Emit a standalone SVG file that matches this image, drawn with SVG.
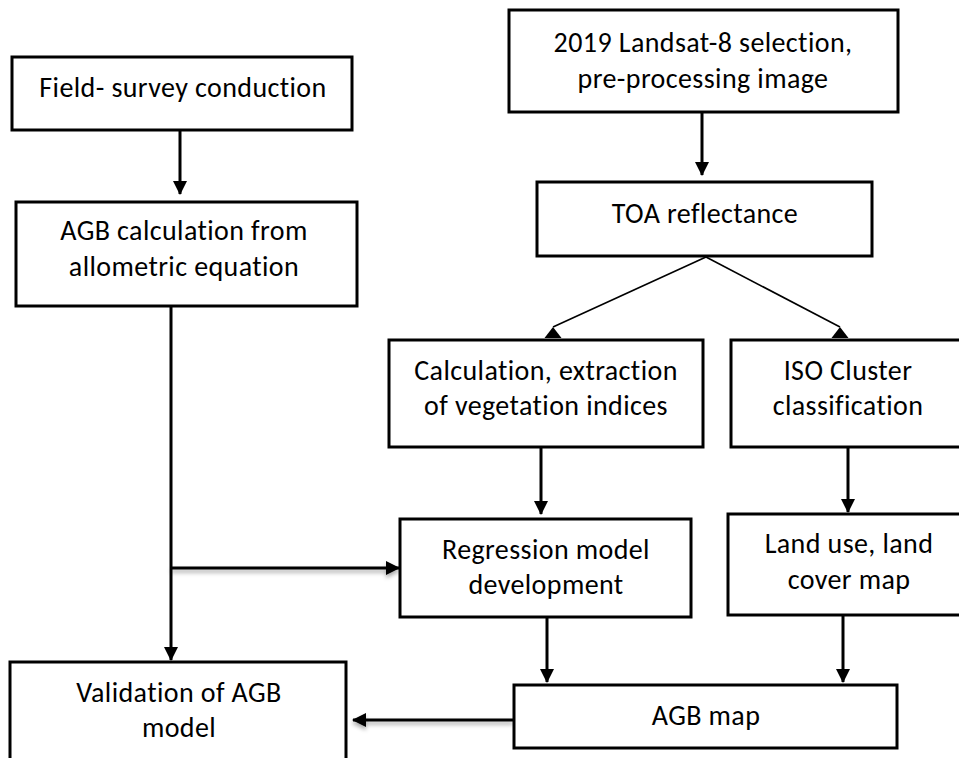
<svg xmlns="http://www.w3.org/2000/svg" width="959" height="758" viewBox="0 0 959 758">
<style>
.box{fill:#fff;stroke:#000;stroke-width:3}
.t{font-family:Carlito,Lato,"Noto Sans",sans-serif;font-size:28px;letter-spacing:0.4px;fill:#000;text-anchor:middle}
.c{fill:none;stroke:#000;stroke-width:3}
.d{fill:none;stroke:#000;stroke-width:1.6}
</style>
<defs>
<marker id="arr" markerUnits="userSpaceOnUse" markerWidth="16" markerHeight="16" viewBox="0 -8 14 16" refX="13" refY="0" orient="auto">
<path d="M0,-7 L14,0 L0,7 Z" fill="#000"/>
</marker>
<marker id="tri" markerUnits="userSpaceOnUse" markerWidth="20" markerHeight="16" viewBox="-10 -2 20 16" refX="0" refY="0" orient="0">
<path d="M0,0 L-8.5,11 L8.5,11 Z" fill="#000"/>
</marker>
<filter id="sh" filterUnits="userSpaceOnUse" x="0" y="0" width="959" height="758">
<feDropShadow dx="0" dy="3" stdDeviation="2" flood-color="#000" flood-opacity="0.35"/>
</filter>
</defs>
<g id="connectors">
<line class="c" x1="180" y1="130" x2="180" y2="194" marker-end="url(#arr)"/>
<line class="c" x1="171" y1="306" x2="171" y2="660" marker-end="url(#arr)"/>
<line class="c" x1="171" y1="568" x2="399" y2="568" marker-end="url(#arr)" filter="url(#sh)"/>
<line class="c" x1="702" y1="112" x2="702" y2="175" marker-end="url(#arr)"/>
<line class="d" x1="706" y1="257" x2="553" y2="327" marker-end="url(#tri)"/>
<line class="d" x1="706" y1="257" x2="840" y2="327" marker-end="url(#tri)"/>
<line class="c" x1="541" y1="447" x2="541" y2="514" marker-end="url(#arr)"/>
<line class="c" x1="848" y1="447" x2="848" y2="512" marker-end="url(#arr)"/>
<line class="c" x1="547" y1="617" x2="547" y2="682" marker-end="url(#arr)"/>
<line class="c" x1="843" y1="615" x2="843" y2="682" marker-end="url(#arr)"/>
<line class="c" x1="513" y1="720" x2="353" y2="720" marker-end="url(#arr)" filter="url(#sh)"/>
</g>
<g id="field">
<rect class="box" x="12" y="57" width="340" height="73"/>
<text class="t" x="183" y="97">Field- survey conduction</text>
</g>
<g id="agbcalc">
<rect class="box" x="16" y="202" width="341" height="104"/>
<text class="t" x="184" y="240">AGB calculation from</text>
<text class="t" x="184" y="276">allometric equation</text>
</g>
<g id="landsat">
<rect class="box" x="509" y="10" width="389" height="102"/>
<text class="t" x="703" y="52">2019 Landsat-8 selection,</text>
<text class="t" x="703" y="88">pre-processing image</text>
</g>
<g id="toa">
<rect class="box" x="537" y="182" width="335" height="74"/>
<text class="t" x="705" y="223">TOA reflectance</text>
</g>
<g id="calc">
<rect class="box" x="389" y="340" width="314" height="107"/>
<text class="t" x="546" y="380">Calculation, extraction</text>
<text class="t" x="546" y="415">of vegetation indices</text>
</g>
<g id="iso">
<rect class="box" x="731" y="340" width="240" height="107"/>
<text class="t" x="848" y="380">ISO Cluster</text>
<text class="t" x="848" y="415">classification</text>
</g>
<g id="regression">
<rect class="box" x="400" y="519" width="291" height="98"/>
<text class="t" x="546" y="559">Regression model</text>
<text class="t" x="546" y="594">development</text>
</g>
<g id="landuse">
<rect class="box" x="728" y="514" width="240" height="101"/>
<text class="t" x="849" y="553">Land use, land</text>
<text class="t" x="849" y="589">cover map</text>
</g>
<g id="agbmap">
<rect class="box" x="514" y="685" width="383" height="63"/>
<text class="t" x="706" y="725">AGB map</text>
</g>
<g id="validation">
<rect class="box" x="10" y="662" width="336" height="110"/>
<text class="t" x="179" y="702">Validation of AGB</text>
<text class="t" x="179" y="737">model</text>
</g>
</svg>
